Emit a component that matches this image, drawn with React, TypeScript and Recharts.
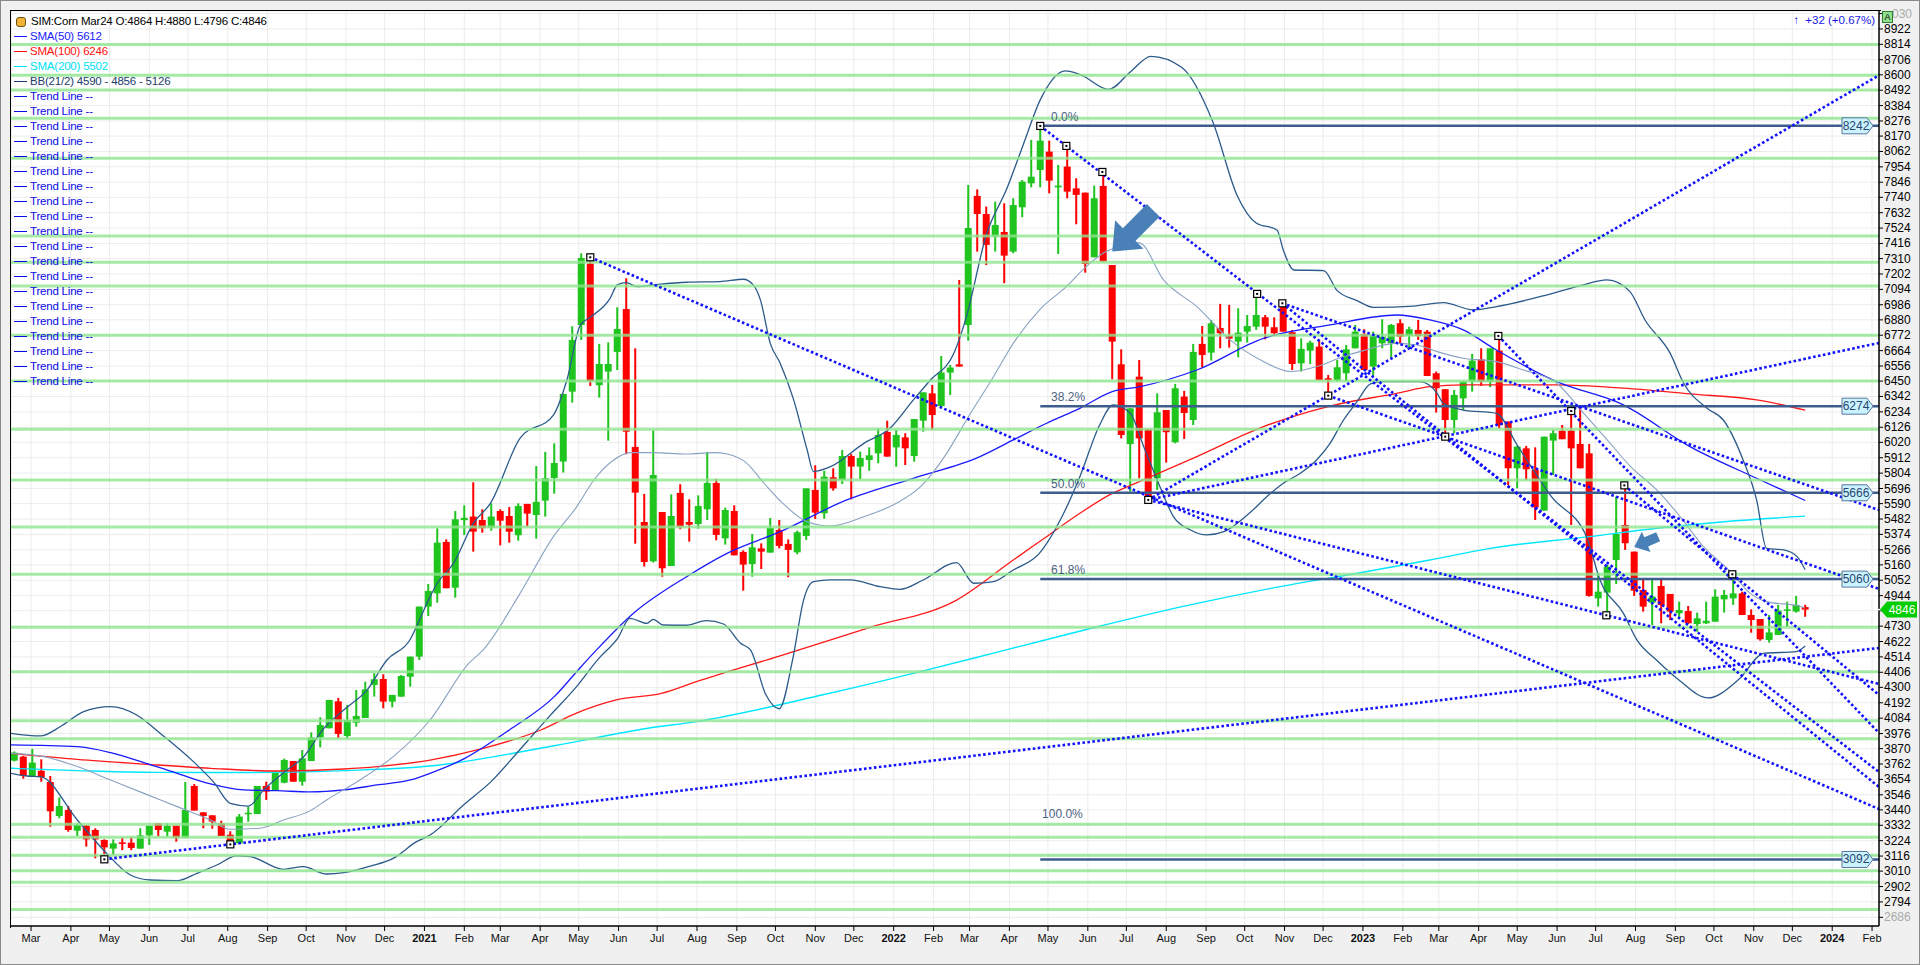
import React from "react";
import {
  ComposedChart,
  Bar,
  Line,
  XAxis,
  YAxis,
  CartesianGrid,
  ReferenceLine,
  ReferenceDot,
} from "recharts";

// weekly candles, week 0 = 17 Feb 2020
const opens = [
  3786, 3814, 3678, 3715, 3636, 3397, 3439, 3294, 3329, 3299, 3229, 3168, 3212, 3210, 3168, 3261, 3346, 3287, 3329, 3245,
  3608, 3423, 3402, 3346, 3266, 3205, 3411, 3411, 3608, 3575, 3631, 3783, 3638, 3783, 3949, 4013, 4202, 3959, 4052, 4085,
  4317, 4359, 4200, 4235, 4375, 4516, 4867, 4960, 5321, 5000, 5474, 5499, 5475, 5421, 5538, 5503, 5368, 5588, 5510, 5611,
  5770, 5885, 6376, 6844, 7275, 6421, 6517, 6655, 6956, 5988, 5461, 5185, 5531, 5152, 5665, 5461, 5447, 5550, 5735, 5346,
  5538, 5251, 5166, 5276, 5246, 5405, 5307, 5248, 5363, 5686, 5522, 5775, 5756, 5924, 5850, 5896, 5943, 6093, 5985, 6055,
  5924, 6172, 6364, 6275, 6510, 6568, 6844, 7750, 7623, 7464, 7497, 7359, 7670, 7838, 7932, 8061, 7810, 7956, 7803, 7773,
  7319, 7820, 7265, 6568, 6008, 6481, 6112, 5768, 6247, 6021, 6341, 6177, 6711, 6650, 6823, 6767, 6727, 6797, 6832, 6898,
  6828, 6973, 6793, 6575, 6664, 6692, 6470, 6458, 6505, 6680, 6781, 6552, 6715, 6715, 6856, 6769, 6809, 6797, 6505, 6393,
  6177, 6329, 6446, 6603, 6446, 6664, 6166, 5838, 5978, 5826, 5541, 6032, 6102, 6102, 6009, 5943, 4925, 4965, 5194, 5440,
  5253, 4984, 4895, 5012, 4956, 4820, 4836, 4745, 4750, 4761, 4918, 4925, 4960, 4808, 4780, 4633, 4668, 4839, 4832, 4864,
];
const highs = [
  3850, 3820, 3868, 3795, 3678, 3528, 3467, 3346, 3334, 3311, 3233, 3233, 3247, 3252, 3311, 3329, 3346, 3346, 3329, 3636,
  3622, 3423, 3402, 3364, 3290, 3411, 3463, 3608, 3638, 3709, 3800, 3783, 3860, 3984, 4090, 4212, 4226, 4177, 4282, 4340,
  4399, 4392, 4247, 4387, 4516, 4867, 5026, 5417, 5339, 5538, 5578, 5740, 5550, 5592, 5550, 5566, 5592, 5588, 5854, 5953,
  6013, 6360, 6835, 7347, 7300, 6711, 6722, 6968, 7172, 6680, 5658, 6105, 5531, 5655, 5726, 5620, 5648, 5953, 5763, 5562,
  5578, 5262, 5377, 5311, 5489, 5475, 5339, 5400, 5697, 5859, 5821, 5838, 5967, 5938, 5955, 5985, 6119, 6172, 6107, 6084,
  6184, 6371, 6423, 6626, 6563, 7160, 7827, 7796, 7675, 7710, 7698, 7733, 7862, 8143, 8241, 8138, 7967, 8096, 7874, 7773,
  7822, 7897, 7265, 6673, 6259, 6598, 6112, 6364, 6247, 6430, 6381, 6711, 6837, 6879, 6992, 6985, 6961, 6914, 7066, 6914,
  6898, 6996, 6809, 6750, 6734, 6739, 6493, 6598, 6704, 6844, 6814, 6797, 6884, 6851, 6884, 6832, 6879, 6809, 6517, 6393,
  6388, 6446, 6641, 6680, 6680, 6774, 6166, 5995, 5995, 5985, 6060, 6107, 6142, 6240, 6266, 6009, 5101, 5159, 5639, 5716,
  5253, 5054, 5054, 5054, 4956, 4902, 4871, 4825, 4902, 4988, 4984, 5094, 4972, 4848, 4780, 4808, 4879, 4902, 4942, 4880,
];
const lows = [
  3780, 3659, 3670, 3638, 3322, 3381, 3287, 3257, 3182, 3100, 3095, 3124, 3158, 3158, 3168, 3194, 3252, 3252, 3217, 3245,
  3435, 3311, 3308, 3257, 3200, 3205, 3357, 3411, 3510, 3575, 3627, 3638, 3610, 3783, 3879, 4013, 3943, 3943, 4024, 4085,
  4235, 4153, 4160, 4235, 4305, 4492, 4801, 4895, 4996, 4930, 5370, 5253, 5386, 5400, 5297, 5316, 5330, 5428, 5344, 5499,
  5660, 5808, 6299, 6739, 6416, 6334, 6032, 6528, 5936, 5309, 5148, 5176, 5077, 5152, 5410, 5323, 5414, 5475, 5332, 5302,
  5227, 4979, 5077, 5131, 5246, 5276, 5073, 5234, 5335, 5482, 5484, 5681, 5728, 5620, 5761, 5821, 5873, 5920, 5849, 5861,
  5884, 6095, 6107, 6259, 6352, 6552, 6734, 7359, 7265, 7359, 7137, 7347, 7600, 7810, 7810, 7768, 7342, 7733, 7551, 7211,
  7319, 7289, 6462, 6048, 5674, 5768, 5616, 5686, 5878, 6013, 6044, 6142, 6547, 6594, 6680, 6685, 6617, 6720, 6809, 6743,
  6767, 6797, 6528, 6517, 6570, 6458, 6353, 6446, 6446, 6680, 6528, 6488, 6680, 6610, 6715, 6680, 6739, 6486, 6229, 6060,
  6084, 6247, 6376, 6416, 6407, 6119, 5721, 5697, 5756, 5475, 5541, 5791, 6042, 5440, 5838, 4937, 4867, 4806, 5026, 5265,
  4942, 4832, 4738, 4750, 4773, 4785, 4745, 4691, 4745, 4761, 4825, 4879, 4808, 4684, 4628, 4614, 4668, 4726, 4825, 4796,
];
const closes = [
  3842, 3678, 3772, 3669, 3430, 3467, 3299, 3334, 3233, 3233, 3177, 3205, 3201, 3173, 3261, 3329, 3299, 3329, 3245, 3439,
  3435, 3397, 3358, 3257, 3210, 3393, 3420, 3608, 3568, 3709, 3790, 3638, 3802, 3949, 4036, 4212, 3973, 4071, 4099, 4286,
  4357, 4200, 4247, 4380, 4516, 4867, 4977, 5316, 4996, 5480, 5490, 5393, 5417, 5499, 5470, 5393, 5573, 5520, 5602, 5768,
  5875, 6360, 6739, 7314, 6451, 6570, 6570, 6816, 6095, 5667, 5180, 5791, 5136, 5503, 5428, 5442, 5573, 5735, 5370, 5545,
  5227, 5162, 5283, 5253, 5419, 5293, 5265, 5389, 5697, 5527, 5779, 5697, 5924, 5850, 5910, 5929, 6072, 5920, 6072, 5978,
  6184, 6371, 6212, 6510, 6545, 6552, 7525, 7623, 7406, 7546, 7331, 7686, 7850, 7885, 8138, 7857, 7822, 7780, 7757, 7272,
  7733, 7289, 6727, 6072, 6259, 6048, 5616, 6231, 6091, 6400, 6226, 6655, 6633, 6856, 6786, 6748, 6790, 6837, 6914, 6832,
  6786, 6797, 6570, 6676, 6720, 6458, 6458, 6547, 6673, 6797, 6528, 6769, 6762, 6844, 6762, 6814, 6767, 6486, 6400, 6177,
  6353, 6446, 6594, 6446, 6680, 6142, 5838, 5990, 5831, 5564, 6060, 6084, 6042, 5978, 5838, 4942, 4972, 5148, 5377, 5312,
  4979, 4867, 4937, 4879, 4832, 4843, 4750, 4785, 4768, 4937, 4949, 4960, 4808, 4773, 4638, 4686, 4839, 4848, 4879, 4846,
];

// indicator lines: [week, value]
const sma50Pts: [number, number][] = [
  [-0.4, 3896], [7, 3884], [10.7, 3842], [14.4, 3772], [18.1, 3697], [21.8, 3622], [25.5, 3580], [29.2, 3575],
  [32.9, 3566], [36.6, 3580], [40.3, 3615], [44, 3650], [46.2, 3697], [50, 3800], [55, 4001], [60, 4235], [62.9, 4440],
  [64.7, 4563], [68.8, 4820], [74.7, 5077], [79.2, 5241], [85.1, 5393], [92.5, 5616], [99.9, 5768], [107.3, 5920],
  [111, 6037], [114.7, 6154], [118.4, 6259], [122, 6376], [125, 6410], [131.4, 6528], [138.8, 6750], [146.2, 6844],
  [153.6, 6914], [157.3, 6879], [161, 6809], [164.5, 6675], [171.4, 6446], [178.8, 6283], [186.2, 5990], [193.6, 5768],
  [199, 5612],
];
const sma100Pts: [number, number][] = [
  [-0.4, 3837], [7, 3795], [14.4, 3762], [21.8, 3732], [29.2, 3713], [36.6, 3727], [40.3, 3744], [46.2, 3790],
  [52, 3870], [58.5, 4001], [62.4, 4118], [66.9, 4212], [71.9, 4258], [75.8, 4340], [85, 4520], [95, 4720],
  [104.7, 4913], [111, 5194], [114.7, 5358], [118.4, 5522], [122, 5662], [124.5, 5730], [131.4, 5920], [138.8, 6130],
  [146.2, 6275], [153.6, 6364], [157.3, 6411], [161, 6423], [171.4, 6423], [178.8, 6400], [186.2, 6360], [193.6, 6318],
  [199, 6246],
];
const sma200Pts: [number, number][] = [
  [-0.4, 3732], [7, 3716], [14.4, 3704], [21.8, 3702], [29.2, 3704], [36.6, 3716], [46.2, 3748], [60, 3890],
  [70.4, 4013], [75.8, 4060], [90, 4250], [100, 4400], [110, 4560], [120, 4720], [130, 4870], [140, 5000],
  [150, 5110], [157.3, 5194], [164, 5276], [175, 5358], [182.5, 5417], [190, 5463], [199, 5502],
];
const bbUpperPts: [number, number][] = [
  [-0.4, 3978], [2.9, 3959], [5.1, 4024], [7.7, 4130], [10.7, 4165], [13.6, 4106], [16.2, 3978], [19.9, 3779],
  [22.2, 3631], [24, 3486], [26, 3467], [27.7, 3580], [30.3, 3720], [32.1, 3809], [34.4, 4013], [36.6, 4141],
  [39.2, 4282], [41.4, 4492], [44, 4638], [45.1, 4785], [46.2, 4937], [47, 5031], [48.8, 5171], [51, 5452],
  [52.9, 5592], [56.2, 6049], [59.9, 6212], [61.4, 6458], [62.9, 6844], [64, 6898], [66.2, 7031], [67, 7125],
  [68, 7141], [69.2, 7113], [71, 7125], [74.7, 7144], [78.4, 7148], [81, 7165], [82.1, 7125], [82.9, 7020],
  [84, 6715], [85.1, 6575], [86.6, 6318], [88.1, 5966], [88.8, 5815], [90.7, 5849], [94.4, 6013], [97.3, 6119],
  [99.9, 6318], [101.8, 6458], [104.4, 6645], [105.8, 6903], [108, 7476], [110.3, 7803], [112.1, 8108], [114, 8424],
  [116.8, 8627], [118.5, 8600], [121.6, 8498], [124, 8620], [126.3, 8730], [129.7, 8653], [133.2, 8266],
  [135.9, 7750], [138, 7560], [140.3, 7511], [141, 7371], [142.2, 7230], [145.5, 7226], [147, 7085], [149.2, 7015],
  [151, 6968], [155.5, 6977], [158.8, 7001], [162.1, 6950], [164.7, 6973], [170, 7050], [174, 7120], [177, 7160],
  [179.5, 7080], [181.2, 6879], [184, 6645], [185.5, 6435], [188.1, 6259], [189.9, 6177], [192.1, 5896],
  [193.6, 5616], [194.7, 5276], [196.6, 5265], [198.1, 5218], [199, 5126],
];
const bbMiddlePts: [number, number][] = [
  [-0.4, 3837], [3.3, 3814], [7, 3744], [10.7, 3650], [14.4, 3556], [18.1, 3463], [21.8, 3369], [24, 3304],
  [27.3, 3311], [29.9, 3369], [32.9, 3435], [34.7, 3510], [38.4, 3650], [42.1, 3814], [46.2, 4071], [50.5, 4469],
  [52.1, 4563], [56.2, 4960], [59.9, 5358], [62.5, 5569], [64.4, 5756], [66.6, 5896], [68.4, 5948], [71, 5948],
  [74.7, 5938], [77.7, 5948], [79.2, 5938], [81.4, 5873], [83.3, 5733], [85.1, 5610], [88.1, 5463], [90.7, 5433],
  [94.4, 5498], [98, 5592], [100.7, 5709], [103.6, 5943], [105.8, 6177], [108.8, 6481], [111, 6715], [113.9, 6949],
  [116.9, 7113], [119.1, 7254], [121.3, 7359], [122.8, 7394], [125, 7420], [127.7, 7160], [131.4, 6973],
  [135.1, 6739], [138.8, 6587], [141.8, 6517], [144.7, 6552], [147.7, 6622], [149.9, 6664], [153.6, 6715],
  [155.9, 6704], [158.1, 6657], [161, 6610], [164.7, 6587], [167.7, 6528], [171.4, 6435], [174.4, 6224], [177, 6037],
  [179.6, 5850], [182.5, 5686], [185.1, 5499], [187.7, 5288], [190.7, 5113], [192.9, 4960], [194.7, 4902],
  [198.4, 4870], [199, 4856],
];
const bbLowerPts: [number, number][] = [
  [-0.4, 3697], [1.4, 3678], [2.9, 3673], [7, 3369], [9.9, 3159], [12.9, 2983], [15.1, 2948], [18.1, 2943],
  [20.3, 2995], [22.5, 3053], [24.7, 3117], [26.2, 3112], [29.9, 3023], [32.1, 3042], [34.7, 2990], [36.6, 2999],
  [39.6, 3046], [42.1, 3100], [44.7, 3217], [46.2, 3264], [50, 3480], [53, 3640], [56, 3850], [59.5, 4100],
  [62.4, 4300], [64.9, 4500], [67.1, 4650], [68.4, 4785], [70.3, 4750], [71, 4778], [72.1, 4738], [74.7, 4736],
  [76.9, 4769], [78.8, 4745], [80.7, 4610], [81.8, 4563], [83.5, 4250], [85, 4150], [86.5, 4500], [87.7, 4913],
  [88.8, 5042], [90.7, 5054], [92.9, 5054], [96.2, 5007], [98.4, 4988], [101, 5054], [104.7, 5176], [106.6, 5031],
  [108.8, 5042], [111, 5124], [113.9, 5241], [116.6, 5522], [118.4, 5779], [120.6, 6142], [122.1, 6283],
  [124, 6224], [125.5, 5990], [127.3, 5709], [128.8, 5499], [130.7, 5405], [132.5, 5370], [134.4, 5393], [137, 5510],
  [139.6, 5662], [141, 5733], [142.9, 5803], [144.7, 5896], [146.2, 6013], [147.7, 6177], [149.2, 6306],
  [150.7, 6430], [152.1, 6446], [156.2, 6446], [158.1, 6364], [158.8, 6294], [161, 6247], [164.7, 6224], [167, 6000],
  [170.8, 5639], [174.7, 5358], [176.2, 5054], [178.8, 4820], [180.3, 4633], [182.5, 4490], [185, 4350],
  [188.2, 4226], [191.6, 4355], [194.4, 4539], [198, 4551], [199, 4590],
];

// green horizontal levels
const greenLevels = [
  8812, 8597, 8494, 8296, 8014, 7468, 7284, 7118, 6772, 6451, 6112, 5755, 5426, 5094, 4723, 4410, 4065, 3940, 3339,
  3248, 3121, 3013, 2932, 2740,
];

// fibonacci retracement
const fibLevels = [8242, 6274, 5666, 5060, 3092];
const fibNames = ["0.0%", "38.2%", "50.0%", "61.8%", "100.0%"];

// trend lines [week1, price1, week2, price2]
const trendLines: [number, number, number, number][] = [
  [10, 3093, 207.2, 4577],
  [64, 7319, 207.2, 3446],
  [114, 8241, 207.2, 3706],
  [126, 5616, 207.2, 8597],
  [126, 5616, 207.2, 6718],
  [126, 5616, 207.2, 4324],
  [140.9, 6996, 207.2, 5545],
  [146, 6348, 207.2, 4991],
  [140.9, 6996, 207.2, 3601],
  [164.9, 6767, 207.2, 3980],
  [178.9, 5718, 207.2, 4247],
];
const anchorPts: [number, number][] = [
  [10, 3093], [24, 3198], [64, 7319], [114, 8241], [116.9, 8101], [120.9, 7918], [126, 5616], [138.1, 7062],
  [140.9, 6996], [146, 6348], [159, 6060], [164.9, 6767], [173, 6240], [176.9, 4806], [178.9, 5718], [190.9, 5094],
];

const yTicks = [
  9030, 8922, 8814, 8706, 8600, 8492, 8384, 8276, 8170, 8062, 7954, 7846, 7740, 7632, 7524, 7416, 7310, 7202, 7094,
  6986, 6880, 6772, 6664, 6556, 6450, 6342, 6234, 6126, 6020, 5912, 5804, 5696, 5590, 5482, 5374, 5266, 5160, 5052,
  4944, 4838, 4730, 4622, 4514, 4406, 4300, 4192, 4084, 3976, 3870, 3762, 3654, 3546, 3440, 3332, 3224, 3116, 3010,
  2902, 2794, 2686,
];
const monthNames = ["Jan", "Feb", "Mar", "Apr", "May", "Jun", "Jul", "Aug", "Sep", "Oct", "Nov", "Dec"];

const LAST_PRICE = 4846;
const X_MAX = 207.2;

const weekZero = Date.UTC(2020, 1, 17);
const monthTicks: { k: number; label: string; year: boolean }[] = [];
for (let y = 2020; y <= 2024; y++) {
  for (let m = 0; m < 12; m++) {
    if (y === 2020 && m < 2) continue;
    if (y === 2024 && m > 1) continue;
    const k = (Date.UTC(y, m, 1) - weekZero) / (7 * 86400000);
    monthTicks.push({ k, label: m === 0 ? String(y) : monthNames[m], year: m === 0 });
  }
}
const tickLookup = new Map(monthTicks.map((t) => [t.k.toFixed(3), t]));

const candles = opens.map((o, i) => ({ k: i, o, h: highs[i], l: lows[i], c: closes[i] }));
const toPts = (a: [number, number][]) => a.map(([k, v]) => ({ k, v }));

const FONT = "'Liberation Sans', Arial, sans-serif";
const GREEN = "#1fc41f";
const RED = "#ff0000";

const Candle = (props: any) => {
  const { x, y, width, height, payload } = props;
  if (!payload) return null;
  const { o, h, l, c } = payload;
  const top = Math.min(y, y + height);
  const hgt = Math.abs(height);
  const ppu = h === l ? 0 : hgt / (h - l);
  const yv = (v: number) => top + (h - v) * ppu;
  const cx = x + width / 2;
  const col = c >= o ? GREEN : RED;
  const bt = yv(Math.max(o, c));
  const bb = yv(Math.min(o, c));
  return (
    <g>
      <rect x={cx - 1} y={top} width={2} height={Math.max(1, hgt)} fill={col} />
      <rect x={cx - 3.5} y={bt} width={7} height={Math.max(1.5, bb - bt)} fill={col} />
    </g>
  );
};

const XTick = (props: any) => {
  const { x, y, payload } = props;
  const t = tickLookup.get(Number(payload.value).toFixed(3));
  if (!t) return null;
  return (
    <text x={x} y={y} dy={9} textAnchor="middle" fontFamily={FONT} fontSize={11}
      fontWeight={t.year ? "bold" : "normal"} fill="#111">
      {t.label}
    </text>
  );
};

const YTick = (props: any) => {
  const { x, y, payload } = props;
  const v = payload.value;
  // 4838 sits under the last-price box
  if (v === 4838) return null;
  const grey = v === 2686 || v === 9030;
  return (
    <text x={v === 9030 ? x + 8 : x} y={y} dy={4} textAnchor="start" fontFamily={FONT} fontSize={12} fill={grey ? "#aaa" : "#000"}>
      {v === 9030 ? "030" : v}
    </text>
  );
};

const AnchorMark = (p: any) => (
  <g>
    <rect x={p.cx - 3.5} y={p.cy - 3.5} width={7} height={7} fill="#fff" stroke="#000" strokeWidth={1.2} />
    <rect x={p.cx - 1} y={p.cy - 1} width={2} height={2} fill="#000" />
  </g>
);

const fibDy = [-5, -5, -5, -5, -41];
const FibText = (i: number) => (p: any) => (
  <text x={p.cx} y={p.cy + fibDy[i]} fontFamily={FONT} fontSize={12} fill="#4d6282">
    {fibNames[i]}
  </text>
);

const PriceBox = (i: number) => (p: any) => {
  const r = p.cx - 6;
  const y = p.cy;
  return (
    <g>
      <polygon
        points={`${r - 31},${y - 8} ${r - 6},${y - 8} ${r},${y} ${r - 6},${y + 8} ${r - 31},${y + 8}`}
        fill="#cbf2ff" stroke="#56779f" strokeWidth={1}
      />
      <text x={r - 17} y={y + 4} textAnchor="middle" fontFamily={FONT} fontSize={12} fill="#27466f">
        {fibLevels[i]}
      </text>
    </g>
  );
};

const LastBox = (p: any) => {
  const l = p.cx + 1;
  const y = p.cy;
  return (
    <g>
      <line x1={l - 2} x2={l + 5} y1={y} y2={y} stroke="#fff" strokeWidth={1.5} />
      <polygon points={`${l},${y} ${l + 7},${y - 8} ${l + 37},${y - 8} ${l + 37},${y + 8} ${l + 7},${y + 8}`} fill="#00cc00" />
      <text x={l + 22} y={y + 4} textAnchor="middle" fontFamily={FONT} fontSize={12} fill="#fff">
        {LAST_PRICE}
      </text>
    </g>
  );
};

const Arrow = (len: number, head: number, hw: number, sw: number, angle: number) => (p: any) => (
  <g transform={`translate(${p.cx},${p.cy}) rotate(${angle})`}>
    <polygon
      points={`0,0 ${-head},${-hw} ${-head},${-sw} ${-len},${-sw} ${-len},${sw} ${-head},${sw} ${-head},${hw}`}
      fill="#4a80b8"
    />
  </g>
);

const legendRows: { text: string; color: string }[] = [
  { text: "SMA(50)  5612", color: "#1a1aff" },
  { text: "SMA(100)  6246", color: "#ff1010" },
  { text: "SMA(200)  5502", color: "#00e1f5" },
  { text: "BB(21/2) 4590 - 4856 - 5126", color: "#1c3c6c" },
  ...Array.from({ length: 20 }, () => ({ text: "Trend Line  --", color: "#0a0ae6" })),
];

export default function App() {
  return (
    <div
      style={{
        position: "absolute", left: 0, top: 0, width: 1920, height: 965, background: "#f0f0f0",
        border: "1px solid #8a8a8a", boxSizing: "border-box", overflow: "hidden",
      }}
    >
      <div style={{ position: "absolute", left: -1, top: -1 }}>
        <ComposedChart width={1920} height={965} data={candles} margin={{ top: 11, right: 0, left: 11, bottom: 9 }}>
          <CartesianGrid fill="#ffffff" stroke="#ececec" strokeWidth={1} />
          <XAxis
            dataKey="k" type="number" domain={[-0.37, X_MAX]} allowDataOverflow
            ticks={monthTicks.map((t) => t.k)} interval={0} tick={<XTick />} tickSize={5}
            tickLine={{ stroke: "#000" }} axisLine={{ stroke: "#000", strokeWidth: 1.5 }} height={30}
          />
          <YAxis
            orientation="right" type="number" domain={[2625, 9048]} allowDataOverflow ticks={yTicks} interval={0}
            tick={<YTick />} tickSize={4} tickMargin={1} width={41}
            tickLine={{ stroke: "#000" }} axisLine={{ stroke: "#000", strokeWidth: 1.5 }}
          />
          <Line data={toPts(sma200Pts)} dataKey="v" type="monotone" stroke="#00e6ff" strokeWidth={1.4} dot={false} isAnimationActive={false} />
          <Line data={toPts(sma100Pts)} dataKey="v" type="monotone" stroke="#ff1a1a" strokeWidth={1.3} dot={false} isAnimationActive={false} />
          <Line data={toPts(sma50Pts)} dataKey="v" type="monotone" stroke="#1a1aff" strokeWidth={1.3} dot={false} isAnimationActive={false} />
          <Line data={toPts(bbMiddlePts)} dataKey="v" type="monotone" stroke="#8aa2c2" strokeWidth={1.1} dot={false} isAnimationActive={false} />
          <Line data={toPts(bbUpperPts)} dataKey="v" type="monotone" stroke="#2b5b8b" strokeWidth={1.3} dot={false} isAnimationActive={false} />
          <Line data={toPts(bbLowerPts)} dataKey="v" type="monotone" stroke="#2b5b8b" strokeWidth={1.3} dot={false} isAnimationActive={false} />
          <Bar dataKey={(d: any) => [d.l, d.h]} shape={Candle} barSize={7} isAnimationActive={false} />
          {greenLevels.map((v) => (
            <ReferenceLine key={`g${v}`} y={v} stroke="#8fe58f" strokeOpacity={0.8} strokeWidth={3} />
          ))}
          {fibLevels.map((v) => (
            <ReferenceLine key={`f${v}`} segment={[{ x: 114, y: v }, { x: X_MAX, y: v }]} stroke="#3d5d8d" strokeWidth={2.5} />
          ))}
          {trendLines.map(([x1, y1, x2, y2], i) => (
            <ReferenceLine
              key={`t${i}`} segment={[{ x: x1, y: y1 }, { x: x2, y: y2 }]}
              stroke="#1212ff" strokeWidth={2.6} strokeDasharray="2.6 2.4"
            />
          ))}
          {anchorPts.map(([k, v], i) => (
            <ReferenceDot key={`a${i}`} x={k} y={v} r={3} shape={AnchorMark} />
          ))}
          {fibLevels.map((v, i) => (
            <ReferenceDot key={`fl${i}`} x={i === 4 ? 114.2 : 115.2} y={v} r={1} shape={FibText(i)} />
          ))}
          {fibLevels.map((v, i) => (
            <ReferenceDot key={`fb${i}`} x={X_MAX} y={v} r={1} shape={PriceBox(i)} ifOverflow="visible" />
          ))}
          <ReferenceDot x={122} y={7360} r={1} shape={Arrow(58, 24, 20, 9, 135)} />
          <ReferenceDot x={180} y={5286} r={1} shape={Arrow(26, 13, 11, 5, 157)} />
          <ReferenceDot x={X_MAX} y={LAST_PRICE} r={1} shape={LastBox} ifOverflow="visible" />
        </ComposedChart>
      </div>

      {/* plot frame top / left */}
      <div style={{ position: "absolute", left: 9, top: 9, width: 1870, height: 917, borderTop: "1.5px solid #000", borderLeft: "1.5px solid #000", pointerEvents: "none" }} />

      {/* legend */}
      <div style={{ position: "absolute", left: 13, top: 13, fontFamily: FONT, fontSize: 11.5, lineHeight: "15px", letterSpacing: -0.2 }}>
        <div style={{ display: "flex", alignItems: "center", height: 15 }}>
          <span style={{ width: 8, height: 8, borderRadius: 3, background: "#f2b233", border: "1px solid #6a5010", marginLeft: 2, marginRight: 5 }} />
          <span style={{ color: "#000" }}>SIM:Corn Mar24 O:4864 H:4880 L:4796 C:4846</span>
        </div>
        {legendRows.map((r, i) => (
          <div key={i} style={{ display: "flex", alignItems: "center", height: 15 }}>
            <span style={{ width: 13, height: 1.5, background: r.color, marginRight: 3 }} />
            <span style={{ color: r.color }}>{r.text}</span>
          </div>
        ))}
      </div>

      {/* change readout */}
      <div style={{ position: "absolute", left: 1760, width: 114, top: 13, textAlign: "right", fontFamily: FONT, fontSize: 11.5, color: "#1515e6" }}>
        <span style={{ fontWeight: "bold", marginRight: 6 }}>↑</span>+32 (+0.67%)
      </div>
      <div style={{ position: "absolute", left: 1881, top: 10, width: 9, height: 10, background: "#8fe08f", border: "1px solid #2e7d2e", fontFamily: FONT, fontSize: 9, lineHeight: "10px", textAlign: "center", color: "#000" }}>
        A
      </div>
    </div>
  );
}
